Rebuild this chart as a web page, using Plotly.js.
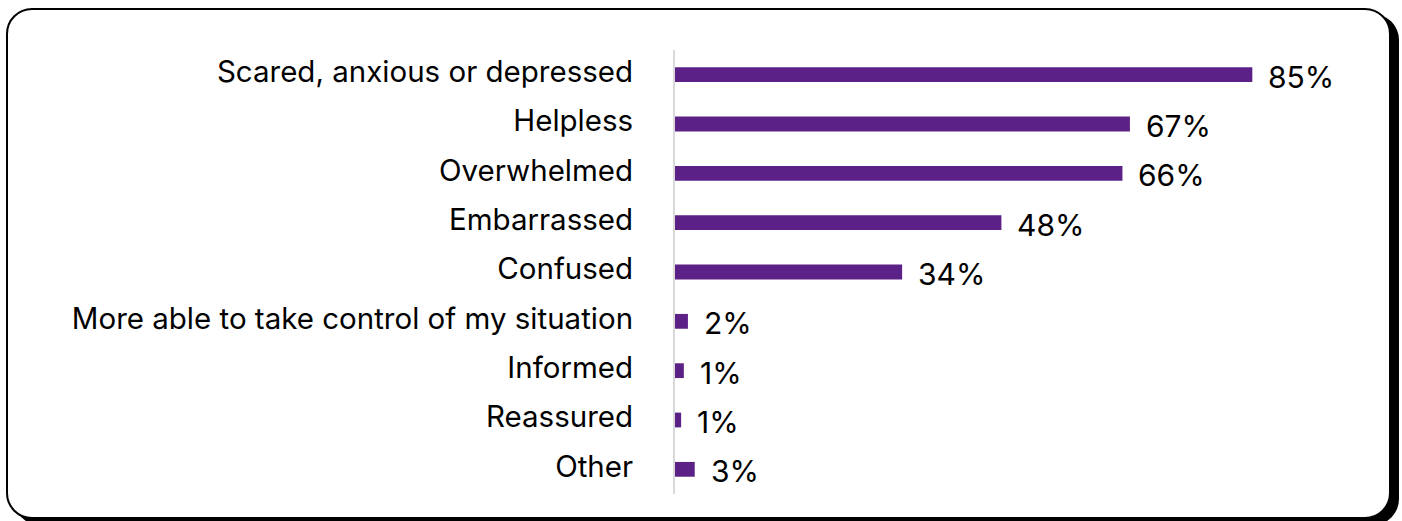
<!DOCTYPE html>
<html>
<head>
<meta charset="utf-8">
<script src="https://cdn.plot.ly/plotly-3.0.1.min.js"></script>
<style>
  html, body { margin: 0; padding: 0; background: #ffffff; }
  #frame {
    position: absolute; left: 6px; top: 8px; width: 1381px; height: 507px;
    border: 2px solid #000; border-radius: 26px; background: #fff;
    box-shadow: 8px 6px 0 0 #000;
  }
  #chart { position: absolute; left: 0; top: 0; width: 1402px; height: 521px; }
</style>
</head>
<body>
<div id="frame"></div>
<div id="chart"></div>
<script>
const categories = [
  "Scared, anxious or depressed",
  "Helpless",
  "Overwhelmed",
  "Embarrassed",
  "Confused",
  "More able to take control of my situation",
  "Informed",
  "Reassured",
  "Other"
];
const values = [84.9, 66.9, 65.8, 48.0, 33.4, 1.9, 1.3, 0.9, 2.9];
const valueLabels = ["85%", "67%", "66%", "48%", "34%", "2%", "1%", "1%", "3%"];

const fontFamily = "Inter, 'Open Sans', sans-serif";

const trace = {
  type: "bar",
  orientation: "h",
  y: categories,
  x: values,
  width: 0.30,
  marker: { color: "#5b2186" },
  hoverinfo: "skip"
};

const annotations = categories.map((c, i) => ({
  x: values[i], y: c, xref: "x", yref: "y",
  text: valueLabels[i], showarrow: false,
  xanchor: "left", yanchor: "middle", xshift: 14, yshift: -2,
  font: { family: fontFamily, size: 30, color: "#000" }
}));

const layout = {
  width: 1402, height: 521,
  paper_bgcolor: "rgba(0,0,0,0)",
  plot_bgcolor: "rgba(0,0,0,0)",
  margin: { l: 675, r: 47, t: 50, b: 27 },
  showlegend: false,
  xaxis: {
    range: [0, 100], showgrid: false, zeroline: false, showticklabels: false,
    showline: false, fixedrange: true
  },
  yaxis: {
    autorange: "reversed", showgrid: false, zeroline: false,
    showline: true, linecolor: "#d9d9d9", linewidth: 2,
    ticks: "", ticklabelstandoff: 34, ticklabelshift: 3,
    tickfont: { family: fontFamily, size: 29.5, color: "#000" },
    fixedrange: true
  },
  annotations: annotations
};

Plotly.newPlot("chart", [trace], layout, { displayModeBar: false, staticPlot: true });
</script>
</body>
</html>
